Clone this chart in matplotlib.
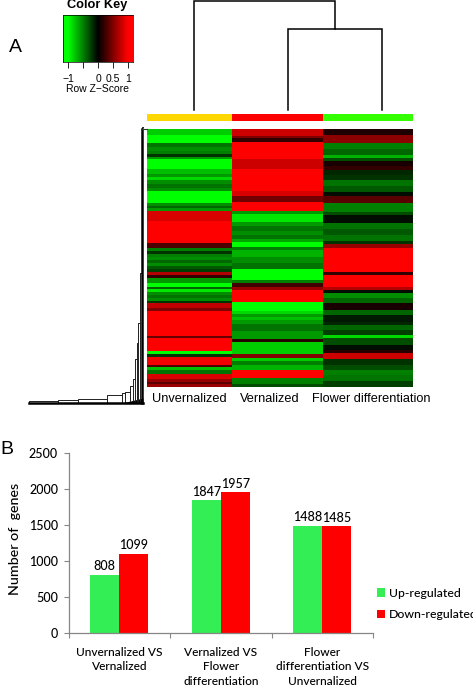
import numpy as np
import matplotlib
matplotlib.use("Agg")
import matplotlib.pyplot as plt
from matplotlib.colors import LinearSegmentedColormap

W, H = 473, 685
HELV = ['Liberation Sans', 'DejaVu Sans']
BODY = ['Lato', 'DejaVu Sans']

# heatmap: z-score of each run and number of rows in the run, for each column
unvern_z = [-0.8, -1, -0.45, -0.55, -0.5, -0.2, -0.6, -1, -0.75, -0.6, -0.85,
            -0.55, -0.45, -0.55, -1, -0.55, -0.4, -0.6, 0.85, 1, 0.3,
            -0.5, -0.2, -0.5, -0.55, -0.4, -0.55, -0.35, -0.25, 0.7, 0.2, -0.6, -1, -0.4, -0.9,
            -0.55, -0.45, -0.55, -0.2, 0.75, 0.5,
            1, 0.4, 1, -1, -0.2, 0.95, 0.3, -0.75, -0.45, 0.85, 0.6, 0.35, 0.6]
unvern_n = [6, 8, 4, 4, 3, 3, 2, 10, 5, 3, 3,
            4, 4, 3, 12, 3, 2, 3, 10, 22, 5,
            3, 3, 3, 3, 3, 3, 3, 3, 3, 3, 5, 4, 2, 3,
            3, 3, 3, 2, 5, 3,
            25, 2, 13, 3, 3, 8, 2, 3, 4, 5, 3, 2, 3]
vern_z = [0.8, 0.5, 0.2, 1, 0.8, 1, 0.85, 0.45, 1, -0.6, -0.9, -0.6, -0.45, -0.55, -0.45,
          -0.65, -1, -0.5, -0.7,
          -0.55, -0.45, -1, -0.5, 0.25, 0.6, 1, -1, -0.85, -0.6, -0.75, -0.6,
          -0.45, -0.6, 0.15, -0.8, 0.5, -0.8, -0.5, -0.7, 1, -0.5, -0.3]
vern_n = [7, 2, 4, 17, 10, 22, 5, 6, 9, 3, 8, 4, 5, 4, 4,
          3, 5, 3, 7,
          6, 6, 11, 3, 4, 3, 12, 9, 3, 3, 3, 4,
          7, 8, 3, 12, 4, 3, 4, 5, 8, 6, 6]
flower_z = [0.12, 0.55, -0.5, -0.4, -0.7, -0.3, 0.1, 0.2, -0.15, -0.2, -0.45, -0.35, -0.05, 0.35,
            -0.5, -0.3, -0.05, -0.45, -0.35, -0.45, -0.2, 0.6, 1,
            1, 0.2, 1, 0.7, -0.05, -0.55, -0.4, 0.1, -0.4, -0.1, -0.15, -0.4,
            -0.25, -0.85, -0.3, -0.05, 0.15, 0.8, -0.2, -0.3, -0.5, -0.45, -0.25]
flower_n = [6, 8, 6, 6, 3, 3, 5, 4, 5, 5, 6, 6, 4, 7,
            9, 3, 8, 6, 6, 6, 3, 4, 10,
            14, 3, 12, 3, 3, 5, 5, 7, 5, 7, 3, 5,
            5, 3, 7, 5, 3, 6, 6, 5, 5, 6, 6]
sample_names = ['Unvernalized', 'Vernalized', 'Flower differentiation']
sample_colors = ['#FFD700', '#FF0000', '#33FF00']

# row dendrogram: merge height (distance) and row reached at each merge
row_merge_h = [114, 85, 65, 36, 21, 18, 13, 10, 8, 6, 5, 3, 1.5]
row_merge_top = [2, 3, 4, 8, 10, 11, 17, 24, 44, 60, 80, 130, 276]

# column dendrogram heights
col_root_h = 110
col_sub_h = 81

# bar chart
comparisons = ['Unvernalized VS\nVernalized', 'Vernalized VS\nFlower\ndifferentiation',
               'Flower\ndifferentiation VS\nUnvernalized']
up_regulated = [808, 1847, 1488]
down_regulated = [1099, 1957, 1485]
y_ticks = [0, 500, 1000, 1500, 2000, 2500]
key_ticks = [-1, -0.5, 0, 0.5, 1]
key_labels = ['\u22121', '', '0', '0.5', '1']

cmap = LinearSegmentedColormap.from_list('gbr', ['#00FF00', '#000000', '#FF0000'])
fig = plt.figure(figsize=(W / 100, H / 100), dpi=100)


def px_axes(x0, y0, x1, y1):
    a = fig.add_axes([x0 / W, 1 - y1 / H, (x1 - x0) / W, (y1 - y0) / H])
    return a


def ftext(x, y, s, **kw):
    kw.setdefault('ha', 'center')
    kw.setdefault('va', 'center')
    fig.text(x / W, 1 - y / H, s, **kw)


# heatmap
hm_edges = [147, 232, 323, 413]
hm_columns = [(unvern_z, unvern_n), (vern_z, vern_n), (flower_z, flower_n)]
n_rows = 258
for i, (z, n) in enumerate(hm_columns):
    a = px_axes(hm_edges[i], 129, hm_edges[i + 1], 387)
    edges = np.concatenate([[0], np.cumsum(n)])
    a.pcolormesh([0, 1], edges, np.array(z)[:, None], cmap=cmap, vmin=-1, vmax=1, rasterized=True)
    a.set_ylim(n_rows, 0)
    a.set_xlim(0, 1)
    a.axis('off')
    s = px_axes(hm_edges[i], 114, hm_edges[i + 1], 121)
    s.set_facecolor(sample_colors[i])
    s.set_xticks([])
    s.set_yticks([])
    for sp in s.spines.values():
        sp.set_visible(False)

# sample labels
ftext(189.5, 399, sample_names[0], family=HELV, fontsize=9.2)
ftext(269.5, 399, sample_names[1], family=HELV, fontsize=9.2)
ftext(371.5, 399, sample_names[2], family=HELV, fontsize=9.2)

# column dendrogram
cd = px_axes(147, 0, 413, 110)
cd.set_xlim(147, 413)
cd.set_ylim(0, col_root_h)
cd.axis('off')
leaf_x = [194, 288, 382]
sub_x = (leaf_x[1] + leaf_x[2]) / 2
cd.plot([leaf_x[1], leaf_x[1], leaf_x[2], leaf_x[2]], [0, col_sub_h, col_sub_h, 0],
        color='k', lw=1.1, clip_on=False, solid_joinstyle='miter')
cd.plot([leaf_x[0], leaf_x[0], sub_x, sub_x], [0, col_root_h - 0.5, col_root_h - 0.5, col_sub_h],
        color='k', lw=1.1, clip_on=False, solid_joinstyle='miter')

# row dendrogram
rd = px_axes(20, 125, 147, 407)
rd.set_xlim(123, -4)
rd.set_ylim(-4, 278)
rd.axis('off')
for i, (h, top) in enumerate(zip(row_merge_h, row_merge_top)):
    nxt = row_merge_h[i + 1] if i + 1 < len(row_merge_h) else 0
    rd.plot([h, h, nxt], [0, top, top], color='#202020', lw=0.7)
rd.plot([row_merge_h[0], 0], [0, 0], color='k', lw=1.8)
rd.fill_between([0, 21], [0, 0], [5, 0], color='k', lw=0)
rd.plot([1, 1], [0, 274], color='k', lw=1.8)
rd.plot([1, -4], [274, 274], color='#204020', lw=0.8, clip_on=False)

# colour key
key = px_axes(63, 15, 133, 62)
gv = np.linspace(-1.17, 1.17, 256)[None, :]
key.imshow(gv, aspect='auto', cmap=cmap, vmin=-1, vmax=1, extent=[-1.17, 1.17, 0, 1])
key.set_yticks([])
key.set_xticks(key_ticks)
key.set_xticklabels(key_labels, family=HELV, fontsize=7.5)
key.tick_params(axis='x', length=4.5, width=0.7, pad=4, color='#222222')
for sp in key.spines.values():
    sp.set_linewidth(0.5)
ftext(97, 5, 'Color Key', family=HELV, fontsize=9.2, fontweight='bold')
ftext(98, 89, 'Row Z\u2212Score', family=HELV, fontsize=7.5)

ftext(15, 48, 'A', family=HELV, fontsize=14)
ftext(6.5, 450, 'B', family=HELV, fontsize=14)

# bars
ax = px_axes(68.5, 452.7, 373, 632.7)
x = np.arange(3)
bw = 0.288
ax.bar(x - bw / 2, up_regulated, bw, color='#33EE55', label='Up-regulated')
ax.bar(x + bw / 2, down_regulated, bw, color='#FF0000', label='Down-regulated')
for i in range(3):
    ax.text(x[i] - bw / 2, up_regulated[i] + 30, str(up_regulated[i]), ha='center', va='bottom',
            family=BODY, fontsize=9, fontweight='medium')
    ax.text(x[i] + bw / 2, down_regulated[i] + 30, str(down_regulated[i]), ha='center', va='bottom',
            family=BODY, fontsize=9, fontweight='medium')
ax.set_xlim(-0.5, 2.5)
ax.set_ylim(0, 2500)
ax.set_yticks(y_ticks)
ax.set_yticklabels([str(v) for v in y_ticks], family=BODY, fontsize=9, fontweight='medium')
ax.set_xticks([-0.5, 0.5, 1.5, 2.5])
ax.set_xticklabels([])
ax.set_xticks(x, minor=True)
ax.set_xticklabels(comparisons, minor=True, family=BODY, fontsize=8.6, linespacing=1.4,
                   fontweight='medium')
ax.tick_params(axis='x', which='minor', length=0, pad=10)
ax.tick_params(axis='x', which='major', length=3.5, width=0.8, color='#868686')
ax.tick_params(axis='y', length=3.5, width=0.8, color='#868686', pad=4)
for sp in ('top', 'right'):
    ax.spines[sp].set_visible(False)
for sp in ('left', 'bottom'):
    ax.spines[sp].set_color('#868686')
    ax.spines[sp].set_linewidth(0.9)
ax.set_ylabel('Number of  genes', family=BODY, fontsize=10.3, fontweight='medium')
ax.yaxis.set_label_coords((21 - 68.5) / 304.5, (632.7 - 538.5) / 180)
ax.legend(loc='center left', bbox_to_anchor=(376.5 / W, 1 - 604 / H), bbox_transform=fig.transFigure,
          frameon=False, prop={'family': BODY, 'size': 8.8, 'weight': 'medium'}, handlelength=0.7,
          handleheight=0.7, handletextpad=0.35, labelspacing=0.85, borderpad=0, borderaxespad=0)

fig.savefig('out.png', dpi=100)
